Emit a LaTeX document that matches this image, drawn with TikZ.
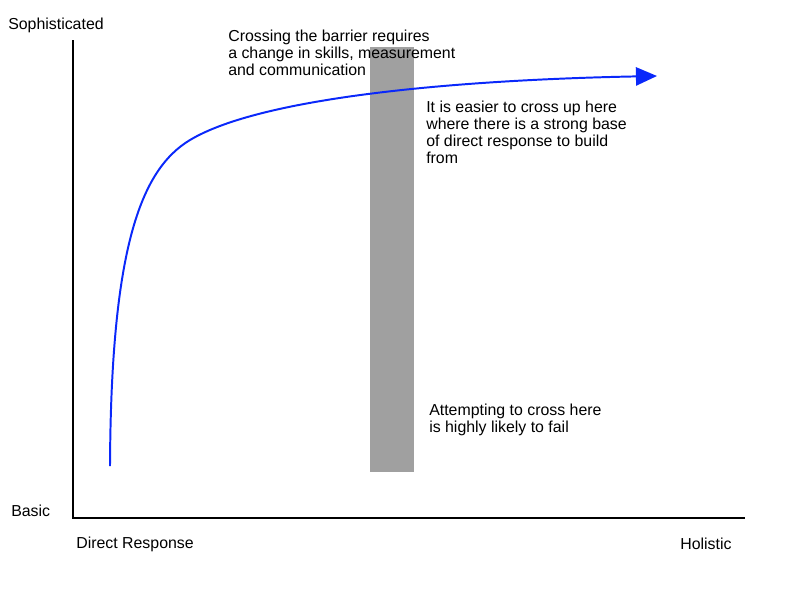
\documentclass[tikz,border=0pt]{standalone}
\usepackage{fontspec}
\setmainfont{Liberation Sans}
\usetikzlibrary{arrows.meta}
\definecolor{curveblue}{RGB}{10,40,250}
\definecolor{bargray}{RGB}{160,160,160}

\begin{document}
\begin{tikzpicture}[x=0.025cm,y=-0.025cm,>=Latex,
  font=\fontsize{11.3}{11.9}\selectfont,
  axis/.style={line width=1.8pt},
  lbl/.style={anchor=west,inner sep=0pt},
  note/.style={anchor=north west,inner sep=0pt,align=left}]
  \useasboundingbox (0,0) rectangle (800,600);
  % barrier
  \fill[bargray] (370,47) rectangle (414,472);
  % axes
  \coordinate (ytop) at (73,40);
  \coordinate (origin) at (73,518);
  \coordinate (xend) at (745,518);
  \draw[axis] (ytop) -- (origin) -- (xend);
  \node[lbl] (soph) at (8,25) {Sophisticated};
  \node[lbl] (basic) at (11,511) {Basic};
  \node[lbl] (direct) at (76,544) {Direct Response};
  \node[lbl] (holistic) at (680,544) {Holistic};
  % route over the barrier
  \coordinate (start) at (110,466);
  \coordinate (tip) at (657,76);
  \draw[curveblue,line width=1.4pt,-{Triangle[length=15pt,width=13pt]}]
    (start) .. controls (111,250) and (140,170) .. (190,140)
    .. controls (260,98) and (450,80) .. (tip);
  % notes
  \node[note] (cross) at (228,30) {Crossing the barrier requires\\a change in skills, measurement\\and communication};
  \node[note] (easier) at (426,101) {It is easier to cross up here\\where there is a strong base\\of direct response to build\\from};
  \node[note] (fail) at (429,404) {Attempting to cross here\\is highly likely to fail};
\end{tikzpicture}
\end{document}
